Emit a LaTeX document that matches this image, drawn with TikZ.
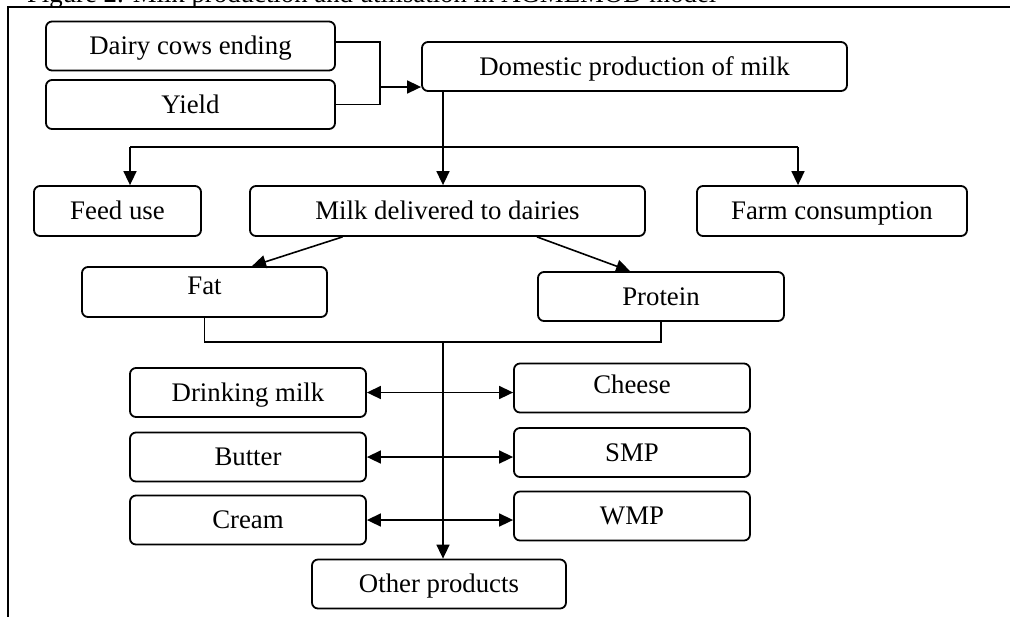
\documentclass[tikz,border=0pt]{standalone}
\usepackage{fontspec}
\setmainfont{Liberation Serif}
\usetikzlibrary{arrows.meta,calc}

\begin{document}
\begin{tikzpicture}[
    x=0.5pt, y=-0.5pt,
    every node/.style={font=\fontsize{13.4}{16}\selectfont},
    box/.style={draw, line width=0.9pt, rounded corners=3pt, minimum height=24.5pt,
      inner sep=0pt, text height=8.9pt, text depth=0pt, align=center},
    link/.style={line width=0.8pt},
    >={Triangle[length=7pt,width=6.5pt]}
  ]
  \useasboundingbox (0,0) rectangle (1010,617);
  \node[anchor=base west] (title) at (20,2) {Figure 2. Milk production and utilisation in AGMEMOD model};
  \draw[line width=1.4pt] (1010,7) -- (8,7) -- (8,617);

  \node[box, minimum width=144.5pt] (dairy) at (190.5,46) {Dairy cows ending};
  \node[box, minimum width=144.5pt] (yield) at (190.5,104.5) {Yield};
  \node[box, minimum width=212.5pt] (domestic) at (634.5,66.5) {Domestic production of milk};
  \node[box, minimum width=83.5pt, minimum height=25pt] (feed) at (117.5,211) {Feed use};
  \node[box, minimum width=197.5pt, minimum height=25pt] (milkdel) at (447.5,211) {Milk delivered to dairies};
  \node[box, minimum width=135pt, minimum height=25pt] (farm) at (832,211) {Farm consumption};
  \node[box, minimum width=122.5pt, minimum height=25pt, text depth=6pt] (fat) at (204.5,292) {Fat};
  \node[box, minimum width=123pt] (protein) at (661,296.5) {Protein};
  \node[box, minimum width=118pt] (drinking) at (248,392.5) {Drinking milk};
  \node[box, minimum width=118pt] (butter) at (248,457) {Butter};
  \node[box, minimum width=118pt] (cream) at (248,520) {Cream};
  \node[box, minimum width=118pt, text depth=3.5pt] (cheese) at (632,388) {Cheese};
  \node[box, minimum width=118pt] (smp) at (632,452.5) {SMP};
  \node[box, minimum width=118pt] (wmp) at (632,516) {WMP};
  \node[box, minimum width=127pt] (other) at (439,584) {Other products};

  \coordinate (merge) at (380,87);
  \coordinate (split) at (443,147);
  \coordinate (ltop) at (130,147);
  \coordinate (rtop) at (798,147);
  \coordinate (collect) at (443,342);

  \draw[link] ([yshift=2pt]dairy.east) -| (merge |- yield.east) -- (yield.east);
  \draw[link,->] (merge) -- (merge -| domestic.west);
  \draw[link,->] (split |- domestic.south) -- (split |- milkdel.north);
  \draw[link] (ltop) -- (rtop);
  \draw[link,->] (ltop) -- (ltop |- feed.north);
  \draw[link,->] (rtop) -- (rtop |- farm.north);
  \draw[link,->] ([xshift=-52.5pt]milkdel.south) -- ([xshift=23.75pt]fat.north);
  \draw[link,->] ([xshift=44.75pt]milkdel.south) -- ([xshift=-15.5pt]protein.north);
  \draw[link] (fat.south) |- (collect) -| (protein.south);
  \draw[link,->] (collect) -- (collect |- other.north);
  \foreach \l/\r in {drinking/cheese, butter/smp, cream/wmp}
    \draw[link,<->] (\l.east) -- (\l.east -| \r.west);
\end{tikzpicture}
\end{document}
